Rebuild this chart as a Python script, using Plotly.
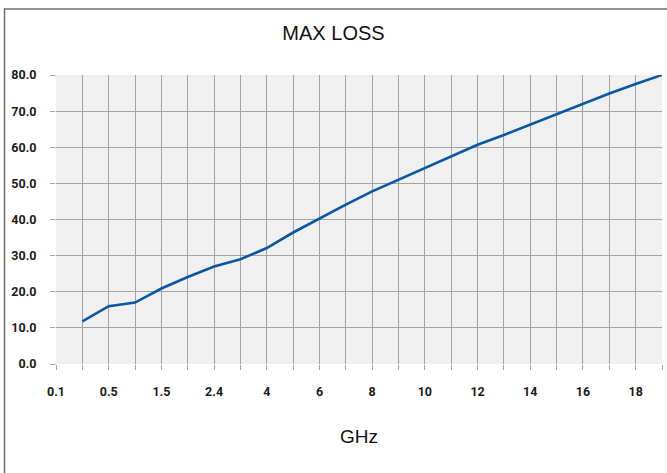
import plotly.graph_objects as go

freq_labels = ["0.1", "0.3", "0.5", "1", "1.5", "2", "2.4", "3", "4", "5", "6", "7",
               "8", "9", "10", "11", "12", "13", "14", "15", "16", "17", "18", "19"]
shown_labels = ["0.1", "0.5", "1.5", "2.4", "4", "6", "8", "10", "12", "14", "16", "18"]
max_loss = [None, 11.8, 16.0, 17.0, 20.9, 24.1, 27.0, 29.0, 32.1, 36.4, 40.3, 44.1,
            47.8, 51.0, 54.2, 57.4, 60.7, 63.4, 66.3, 69.3, 72.1, 74.9, 77.5, 80.0]
y_ticks = [0, 10, 20, 30, 40, 50, 60, 70, 80]

tick_text = [lab if lab in shown_labels else "" for lab in freq_labels]

fig = go.Figure()
fig.add_trace(go.Scatter(
    x=freq_labels, y=max_loss, mode="lines",
    line=dict(color="#0a57a4", width=2.6),
    connectgaps=False, showlegend=False, hoverinfo="x+y",
))

tickfont = dict(family="Roboto", size=12.5, color="#1a1a1a", weight="bold")

fig.update_layout(
    width=667, height=473,
    margin=dict(l=56, r=5, t=75, b=109),
    paper_bgcolor="white",
    plot_bgcolor="#f0f0f0",
    title=dict(text="MAX LOSS", x=0.5, xanchor="center", xref="container",
               y=1 - 33 / 473, yanchor="middle", yref="container",
               font=dict(family="Liberation Sans, Arial", size=20, color="#111")),
    xaxis=dict(
        type="category",
        range=[0, len(freq_labels) - 1],
        tickmode="array", tickvals=freq_labels, ticktext=tick_text,
        showgrid=True, gridcolor="#a3a3a3", gridwidth=1,
        ticks="outside", ticklen=5, tickcolor="#a3a3a3", tickwidth=1,
        tickfont=tickfont, ticklabelstandoff=11,
        showline=False, zeroline=False,
        title=dict(text="GHz", standoff=31,
                   font=dict(family="Liberation Sans, Arial", size=19, color="#111")),
    ),
    yaxis=dict(
        range=[0, 80],
        tickmode="array", tickvals=y_ticks, ticktext=[f"{v:.1f}" for v in y_ticks],
        showgrid=True, gridcolor="#a3a3a3", gridwidth=1,
        ticks="outside", ticklen=5, tickcolor="#a3a3a3", tickwidth=1,
        tickfont=tickfont, ticklabelstandoff=11,
        showline=False, zeroline=False,
    ),
    shapes=[dict(type="rect", xref="paper", yref="paper",
                 x0=(4.5 - 56) / 606, x1=(669 - 56) / 606,
                 y0=(364 - 476) / 289, y1=(364 - 9) / 289,
                 line=dict(color="#6e6e6e", width=1.5), fillcolor="rgba(0,0,0,0)",
                 layer="below")],
)

fig.write_html("out.html", config={"displayModeBar": False},
               post_script="document.body.style.margin='0';")
